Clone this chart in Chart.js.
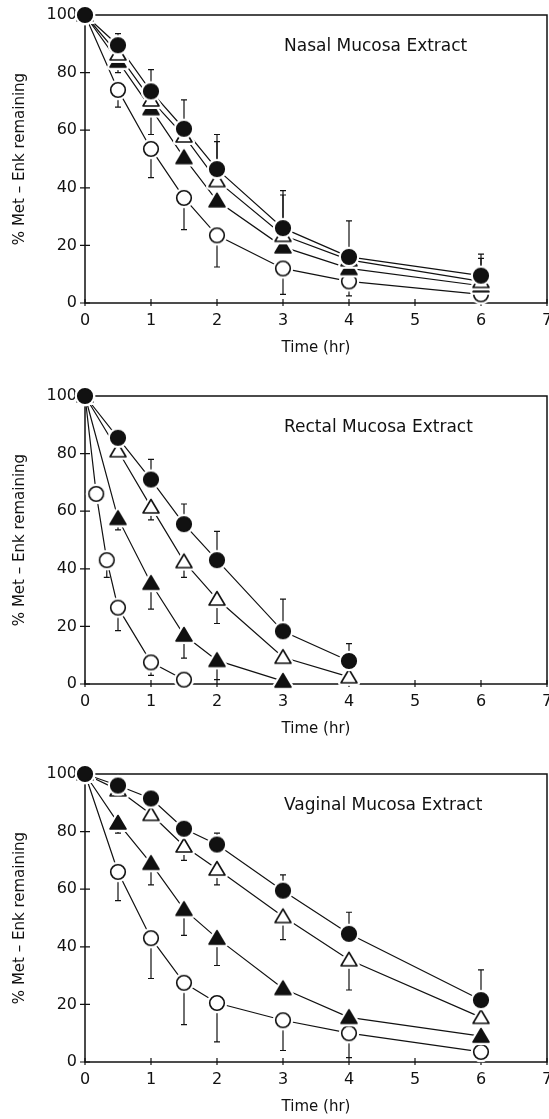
<!DOCTYPE html>
<html>
<head>
<meta charset="utf-8">
<script src="https://cdn.jsdelivr.net/npm/chart.js@4.4.0/dist/chart.umd.min.js"></script>
<style>
  body { margin: 0; background: #fff; width: 549px; height: 1119px; position: relative; overflow: hidden; }
  canvas { position: absolute; left: 0; }
</style>
</head>
<body>
<canvas id="nasal" width="549" height="359" style="top:0px"></canvas>
<canvas id="rectal" width="549" height="381" style="top:359px"></canvas>
<canvas id="vaginal" width="549" height="378" style="top:740px"></canvas>
<script>
// axis ticks
const xTicks = [0, 1, 2, 3, 4, 5, 6, 7];
const yTicks = [0, 20, 40, 60, 80, 100];

// Nasal mucosa extract
const nasalTime = [0, 0.5, 1, 1.5, 2, 3, 4, 6];
const nasalFilledCircle = [100, 89.5, 73.5, 60.5, 46.5, 26, 16, 9.5];
const nasalOpenTriangle = [100, 86.5, 70.5, 58, 42.5, 23.5, 15, 7.5];
const nasalFilledTriangle = [100, 84, 67.5, 50.5, 35.5, 19.5, 12, 6];
const nasalOpenCircle = [100, 74, 53.5, 36.5, 23.5, 12, 7.5, 3];
// end value of each error bar (null = none drawn)
const nasalFilledCircleErr = [null, 93.5, 81, 70.5, 58.5, 39, 28.5, 17];
const nasalOpenTriangleErr = [null, null, null, null, 56, 37.5, null, 15.5];
const nasalFilledTriangleErr = [null, 80, 58.5, null, null, null, null, null];
const nasalOpenCircleErr = [null, 68, 43.5, 25.5, 12.5, 3, 2.5, null];

// Rectal mucosa extract
const rectalTime = [0, 0.5, 1, 1.5, 2, 3, 4];
const rectalFilledTriangleTime = [0, 0.5, 1, 1.5, 2, 3];
const rectalOpenCircleTime = [0, 0.17, 0.33, 0.5, 1, 1.5];
const rectalFilledCircle = [100, 85.5, 71, 55.5, 43, 18.3, 8];
const rectalOpenTriangle = [100, 81, 61.5, 42.5, 29.5, 9.3, 2.5];
const rectalFilledTriangle = [100, 57.5, 35, 17, 8.2, 1];
const rectalOpenCircle = [100, 66, 43, 26.5, 7.5, 1.5];
const rectalFilledCircleErr = [null, null, 78, 62.5, 53, 29.5, 14];
const rectalOpenTriangleErr = [null, null, 57, 37, 21, null, null];
const rectalFilledTriangleErr = [null, 53.5, 26, 9, 1.5, null];
const rectalOpenCircleErr = [null, null, 37, 18.5, 3, null];

// Vaginal mucosa extract
const vaginalTime = [0, 0.5, 1, 1.5, 2, 3, 4, 6];
const vaginalFilledCircle = [100, 96, 91.5, 81, 75.5, 59.5, 44.5, 21.5];
const vaginalOpenTriangle = [100, 94.5, 86, 75, 67, 50.5, 35.5, 15.5];
const vaginalFilledTriangle = [100, 83, 69, 53, 43, 25.5, 15.5, 9];
const vaginalOpenCircle = [100, 66, 43, 27.5, 20.5, 14.5, 10, 3.5];
const vaginalFilledCircleErr = [null, null, null, null, 79.5, 65, 52, 32];
const vaginalOpenTriangleErr = [null, null, null, 70, 61.5, 42.5, 25, null];
const vaginalFilledTriangleErr = [null, 79.5, 61.5, 44, 33.5, null, null, null];
const vaginalOpenCircleErr = [null, 56, 29, 13, 7, 4, 1.5, null];

const INK = '#111';
const FONT = 'DejaVu Sans';

// marker images with a white halo, so lines stop short of the symbols
function makeMarker(kind) {
  const c = document.createElement('canvas');
  c.width = 26; c.height = 26;
  const g = c.getContext('2d');
  const cx = 13, cy = 13;
  const path = () => {
    g.beginPath();
    if (kind.endsWith('Circle')) {
      g.arc(cx, cy, 7.3, 0, Math.PI * 2);
    } else {
      g.moveTo(cx, cy - 7.5);
      g.lineTo(cx + 8, cy + 6);
      g.lineTo(cx - 8, cy + 6);
      g.closePath();
    }
  };
  g.lineJoin = 'round';
  path(); g.strokeStyle = '#fff'; g.lineWidth = 6; g.stroke();
  path(); g.fillStyle = kind.startsWith('filled') ? INK : '#fff'; g.fill();
  g.strokeStyle = INK; g.lineWidth = 1.6; g.stroke();
  return c;
}
const markers = {
  filledCircle: makeMarker('filledCircle'),
  openCircle: makeMarker('openCircle'),
  filledTriangle: makeMarker('filledTriangle'),
  openTriangle: makeMarker('openTriangle')
};

function buildPanel(id, padTop, title, series) {
  const datasets = [];
  series.forEach(s => {
    const pts = s.time.map((t, i) => ({ x: t, y: s.values[i] }));
    datasets.push({ data: pts, borderColor: INK, borderWidth: 1.2, pointRadius: 0, fill: false, order: 2, clip: false });
    datasets.push({ data: pts, showLine: false, pointStyle: markers[s.marker], pointRadius: 8, order: 1, clip: false });
  });

  const framePlugin = {
    id: 'frame',
    beforeDatasetsDraw(chart) {
      const { ctx, chartArea: a, scales: { x, y } } = chart;
      ctx.save();
      ctx.strokeStyle = INK;
      ctx.lineWidth = 1.5;
      ctx.strokeRect(a.left, a.top, a.right - a.left, a.bottom - a.top);
      ctx.lineWidth = 1.2;
      ctx.beginPath();
      yTicks.forEach(v => {
        const py = y.getPixelForValue(v);
        ctx.moveTo(a.left - 5, py); ctx.lineTo(a.left + 5, py);
      });
      xTicks.forEach(v => {
        const px = x.getPixelForValue(v);
        ctx.moveTo(px, a.bottom + 3); ctx.lineTo(px, a.bottom - 4);
      });
      ctx.stroke();

      // error bars, one-sided, with a cap at the end
      ctx.lineWidth = 1.2;
      series.forEach(s => {
        s.err.forEach((e, i) => {
          if (e === null) return;
          const px = x.getPixelForValue(s.time[i]);
          const p0 = y.getPixelForValue(s.values[i]);
          const p1 = y.getPixelForValue(e);
          ctx.beginPath();
          ctx.moveTo(px, p0); ctx.lineTo(px, p1);
          ctx.moveTo(px - 3, p1); ctx.lineTo(px + 3, p1);
          ctx.stroke();
        });
      });
      ctx.restore();
    },
    afterDraw(chart) {
      const { ctx, chartArea: a } = chart;
      ctx.save();
      ctx.fillStyle = INK;
      ctx.font = '17px "' + FONT + '"';
      ctx.textBaseline = 'middle';
      ctx.fillText(title, a.left + 199, a.top + 32);
      ctx.restore();
    }
  };

  return new Chart(document.getElementById(id), {
    type: 'line',
    data: { datasets },
    options: {
      responsive: false,
      animation: false,
      layout: { autoPadding: false, padding: { top: padTop, right: 2, left: 0, bottom: 0 } },
      plugins: { legend: { display: false }, tooltip: { enabled: false } },
      scales: {
        x: {
          type: 'linear', min: 0, max: 7,
          afterBuildTicks: s => { s.ticks = xTicks.map(v => ({ value: v })); },
          grid: { display: false, drawTicks: false },
          border: { display: false },
          ticks: { color: INK, font: { family: FONT, size: 16 }, padding: 8, maxRotation: 0 },
          title: { display: true, text: 'Time (hr)', color: INK, font: { family: FONT, size: 15 }, padding: { top: 0, bottom: 2 } },
          afterFit: s => { s.height = 56; s.paddingLeft = 0; s.paddingRight = 0; }
        },
        y: {
          min: 0, max: 100,
          afterBuildTicks: s => { s.ticks = yTicks.map(v => ({ value: v })); },
          grid: { display: false, drawTicks: false },
          border: { display: false },
          ticks: { color: INK, font: { family: FONT, size: 16 }, padding: 8 },
          title: { display: true, text: '% Met – Enk remaining', color: INK, font: { family: FONT, size: 15 }, padding: { top: 11, bottom: 0 } },
          afterFit: s => { s.width = 85; s.paddingTop = 0; s.paddingBottom = 0; }
        }
      }
    },
    plugins: [framePlugin]
  });
}

buildPanel('nasal', 15, 'Nasal Mucosa Extract', [
  { time: nasalTime, values: nasalFilledCircle, err: nasalFilledCircleErr, marker: 'filledCircle' },
  { time: nasalTime, values: nasalOpenTriangle, err: nasalOpenTriangleErr, marker: 'openTriangle' },
  { time: nasalTime, values: nasalFilledTriangle, err: nasalFilledTriangleErr, marker: 'filledTriangle' },
  { time: nasalTime, values: nasalOpenCircle, err: nasalOpenCircleErr, marker: 'openCircle' }
]);

buildPanel('rectal', 37, 'Rectal Mucosa Extract', [
  { time: rectalTime, values: rectalFilledCircle, err: rectalFilledCircleErr, marker: 'filledCircle' },
  { time: rectalTime, values: rectalOpenTriangle, err: rectalOpenTriangleErr, marker: 'openTriangle' },
  { time: rectalFilledTriangleTime, values: rectalFilledTriangle, err: rectalFilledTriangleErr, marker: 'filledTriangle' },
  { time: rectalOpenCircleTime, values: rectalOpenCircle, err: rectalOpenCircleErr, marker: 'openCircle' }
]);

buildPanel('vaginal', 34, 'Vaginal Mucosa Extract', [
  { time: vaginalTime, values: vaginalFilledCircle, err: vaginalFilledCircleErr, marker: 'filledCircle' },
  { time: vaginalTime, values: vaginalOpenTriangle, err: vaginalOpenTriangleErr, marker: 'openTriangle' },
  { time: vaginalTime, values: vaginalFilledTriangle, err: vaginalFilledTriangleErr, marker: 'filledTriangle' },
  { time: vaginalTime, values: vaginalOpenCircle, err: vaginalOpenCircleErr, marker: 'openCircle' }
]);
</script>
</body>
</html>
